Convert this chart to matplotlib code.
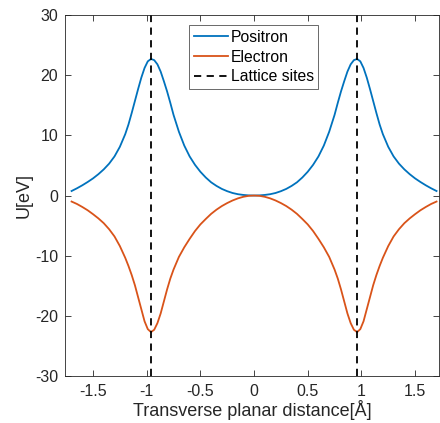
import numpy as np
import matplotlib
matplotlib.use("Agg")
import matplotlib.pyplot as plt

# transverse distance [Å] (one side, mirrored) and potentials [eV]
x_half = [0.00, 0.05, 0.10, 0.15, 0.20, 0.25, 0.30, 0.35, 0.40, 0.45,
          0.50, 0.55, 0.60, 0.65, 0.70, 0.75, 0.78, 0.81, 0.84, 0.87,
          0.90, 0.93, 0.96, 0.99, 1.02, 1.05, 1.08, 1.11, 1.14, 1.17,
          1.20, 1.25, 1.30, 1.35, 1.40, 1.45, 1.50, 1.55, 1.60, 1.65, 1.70]
positron_half = [0.0, 0.025, 0.1, 0.22, 0.42, 0.72, 1.1, 1.6, 2.2, 3.0,
                 3.95, 5.1, 6.5, 8.3, 10.6, 13.4, 15.4, 17.3, 19.0, 20.6,
                 21.8, 22.5, 22.7, 22.3, 21.2, 19.6, 17.7, 15.7, 13.7, 11.8,
                 10.2, 8.1, 6.5, 5.3, 4.35, 3.55, 2.85, 2.25, 1.7, 1.2, 0.75]
electron_half = [0.0, -0.05, -0.21, -0.47, -0.82, -1.25, -1.75, -2.35, -3.05, -3.9,
                 -4.8, -5.9, -7.2, -8.6, -10.2, -12.3, -13.8, -15.6, -17.6, -19.6,
                 -21.2, -22.3, -22.7, -22.2, -20.9, -18.9, -16.9, -14.9, -13.2, -11.7,
                 -10.35, -8.4, -6.8, -5.6, -4.6, -3.8, -3.1, -2.45, -1.9, -1.4, -1.0]
lattice_sites = [-0.96, 0.96]

x = np.concatenate([-np.array(x_half[:0:-1]), x_half])
positron = np.concatenate([positron_half[:0:-1], positron_half])
electron = np.concatenate([electron_half[:0:-1], electron_half])

plt.rcParams['font.family'] = ['Liberation Sans', 'DejaVu Sans']
axis_col = '#262626'

fig = plt.figure(figsize=(4.4, 4.23), dpi=100)
ax = fig.add_axes([0.148, 0.111, 0.849, 0.8535])

ax.plot(x, positron, color='#0072BD', lw=1.3, label='Positron')
ax.plot(x, electron, color='#D95319', lw=1.3, label='Electron')
for i, s in enumerate(lattice_sites):
    ax.axvline(s, color='black', lw=1.3, ls=(0, (4, 3)),
               label='Lattice sites' if i == 0 else None)

ax.set_xlim(-1.76, 1.72)
ax.set_ylim(-30, 30)
ax.set_xticks([-1.5, -1, -0.5, 0, 0.5, 1, 1.5])
ax.set_xticklabels(['-1.5', '-1', '-0.5', '0', '0.5', '1', '1.5'])
ax.set_yticks([-30, -20, -10, 0, 10, 20, 30])
ax.set_yticklabels(['-30', '-20', '-10', '0', '10', '20', '30'])
ax.tick_params(direction='in', length=4, width=0.6, colors=axis_col,
               labelsize=11.5, top=True, right=True)
ax.tick_params(axis='x', pad=6)
ax.tick_params(axis='y', pad=5)
for sp in ax.spines.values():
    sp.set_color(axis_col)
    sp.set_linewidth(0.6)

ax.set_xlabel('Transverse planar distance[Å]', fontsize=13, color=axis_col, labelpad=0.5)
ax.set_ylabel('U[eV]', fontsize=13, color=axis_col, labelpad=2)

leg = ax.legend(loc='upper center', bbox_to_anchor=(0.505, 0.972), borderaxespad=0,
                fontsize=11.3, frameon=True, fancybox=False, handlelength=2.2,
                handletextpad=0.15, borderpad=0.3, labelspacing=0.3)
leg.get_frame().set_edgecolor(axis_col)
leg.get_frame().set_linewidth(0.6)

fig.savefig('out.png', dpi=100)
